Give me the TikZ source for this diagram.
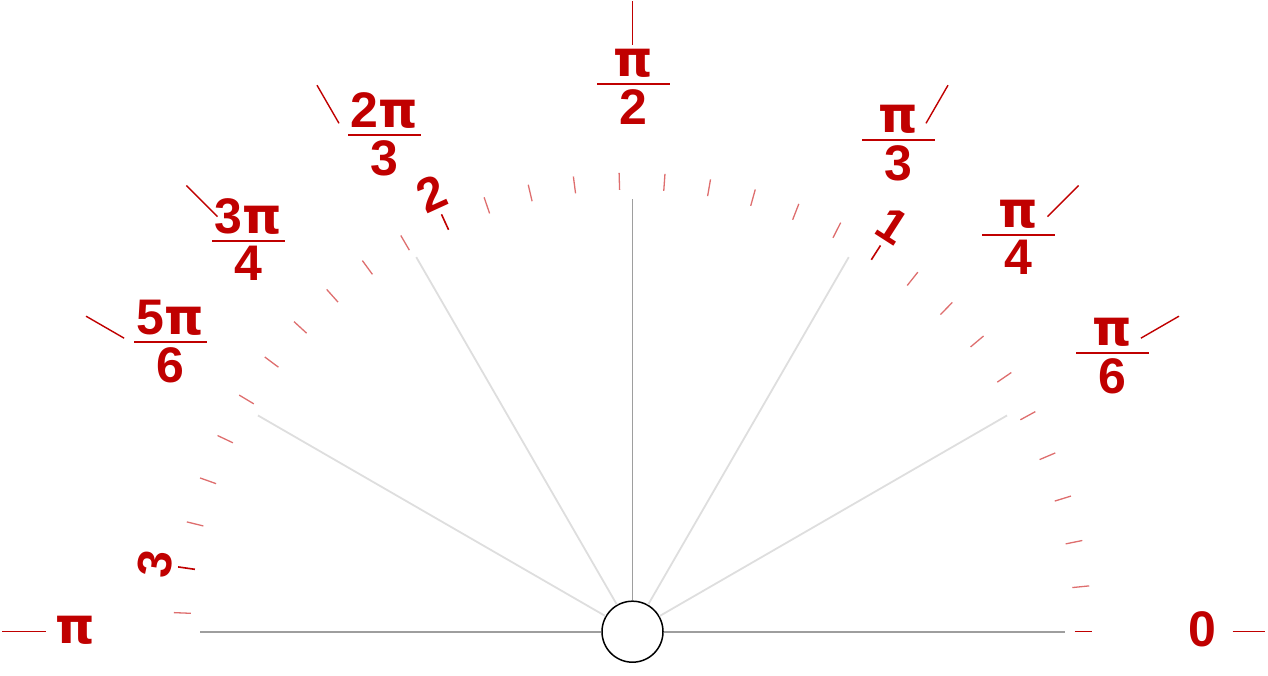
\documentclass[tikz,border=0pt]{standalone}
\usepackage{fontspec}
\setmainfont{Liberation Sans}
\newfontfamily\pifont{DejaVu Sans}
\definecolor{mainred}{RGB}{192,0,0}
\definecolor{lightred}{RGB}{222,110,110}
\newcommand{\PI}{{\pifont\bfseries π}}
\newcommand{\fraclabel}[4]{%
  \node[fracbar] (#1) at #2 {};
  \node[fractext, anchor=south] (#1-num) at ([yshift=5]#1.north) {#3};
  \node[fractext, anchor=north] (#1-den) at ([yshift=-4]#1.south) {#4};
}
\begin{document}
\begin{tikzpicture}[x=1pt,y=1pt,
  spokedark/.style={draw=black!38, line width=1.8pt},
  spokelight/.style={draw=black!13, line width=1.8pt},
  hub/.style={circle, draw=black, line width=1.5pt, fill=white, minimum size=61pt, inner sep=0pt},
  minortick/.style={draw=lightred, line width=1.3pt},
  majortick/.style={draw=mainred, line width=1.6pt},
  outertick/.style={draw=mainred, line width=1.4pt},
  fracbar/.style={fill=mainred, inner sep=0pt, minimum width=73pt, minimum height=2pt},
  fractext/.style={text=mainred, inner sep=0pt, font=\fontsize{50}{60}\selectfont\bfseries},
  intlabel/.style={text=mainred, inner sep=0pt, font=\fontsize{48}{56}\selectfont\bfseries},
]
\useasboundingbox (0,0) rectangle (1268,676);
\coordinate (O) at (632.5,44.3);
\node[hub] (hub) at (O) {};
% spokes
\foreach \a in {0,90,180}
  \draw[spokedark] (hub.\a) -- ([shift={(\a:432.5)}]O);
\foreach \a in {30,60,120,150}
  \draw[spokelight] (hub.\a) -- ([shift={(\a:432.5)}]O);
% radian ticks every 0.1 rad
\foreach \k in {0,...,31}{
  \pgfmathtruncatemacro\m{mod(\k,10)}
  \ifnum\m=0
    \draw[majortick] ([shift={(\k*5.729578:442)}]O) -- ([shift={(\k*5.729578:459)}]O);
  \else
    \draw[minortick] ([shift={(\k*5.729578:442)}]O) -- ([shift={(\k*5.729578:459)}]O);
  \fi
}
% integer labels
\foreach \k in {1,2,3}
  \node[intlabel, rotate=\k*57.29578-90] (int\k) at ([shift={(\k*57.29578:482)}]O) {\k};
% outer ticks
\foreach \a in {30,45,60,90,120,135,150,180}
  \draw[outertick] ([shift={(\a:587)}]O) -- ([shift={(\a:631)}]O);
\draw[outertick] ([shift={(0:600)}]O) -- ([shift={(0:632)}]O);
% labels
\node[fractext] (lpi) at (75.3,45.5) {\PI};
\node[fractext] (lzero) at (1202,47.2) {0};
\fraclabel{f2}{(633,592)}{\PI}{2}
\fraclabel{f3}{(898.5,536)}{\PI}{3}
\fraclabel{f4}{(1018,441)}{\PI}{4}
\fraclabel{f6}{(1112.5,322.7)}{\PI}{6}
\fraclabel{f23}{(384,541)}{2\PI}{3}
\fraclabel{f34}{(248.5,435.3)}{3\PI}{4}
\fraclabel{f56}{(170,334.3)}{5\PI}{6}
\end{tikzpicture}
\end{document}
